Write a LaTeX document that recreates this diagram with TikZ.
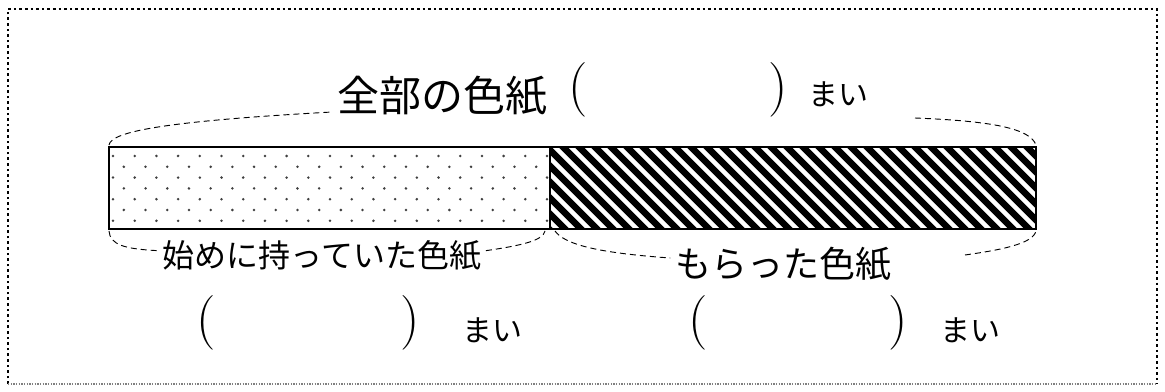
\documentclass[tikz,border=0pt]{standalone}
\usepackage{fontspec}
\newfontfamily\jpfont{Noto Sans CJK JP}
\usetikzlibrary{calc}

\begin{document}
\begin{tikzpicture}[x=0.75pt, y=-0.75pt,
    brace/.style={black, line width=0.7pt, dash pattern=on 4.5pt off 3pt},
    paren/.style={font=\fontsize{41}{41}\selectfont, inner sep=0pt},
    mai/.style={font=\jpfont\fontsize{22.5}{24}\selectfont},
    biglabel/.style={font=\jpfont\fontsize{31.5}{34}\selectfont},
    label/.style={font=\jpfont\fontsize{#1}{#1}\selectfont}]
    \useasboundingbox (0,0) rectangle (1165,392);

    \coordinate (BarNW) at (109,147);
    \coordinate (BarSE) at (1036,229);
    \coordinate (MidN) at (550,147);
    \coordinate (MidS) at (550,229);
    \coordinate (BarSW) at (109,229);
    \coordinate (BarNE) at (1036,147);

    % outer frame
    \draw[black, line width=2pt, dash pattern=on 2pt off 2.2pt] (8,384) -- (8,9) -- (1157,9) -- (1157,384);
    \draw[gray, line width=1pt, dash pattern=on 1pt off 1pt] (8,384) -- (1157,384);

    % dotted part
    \begin{scope}
        \clip (BarNW) rectangle (MidS);
        \foreach \r in {0,...,6}
            \foreach \k in {0,...,20}
                \fill[black!75] ({113+21.7*\k+mod(\r,2)*10.85}, {156+10.8*\r}) circle (1.4);
    \end{scope}

    % striped part
    \begin{scope}
        \clip (MidN) rectangle (BarSE);
        \foreach \s in {0,...,36}
            \draw[line width=4.8pt] ({460+16*\s},140) -- ++(100,100);
    \end{scope}

    \draw[line width=1.3pt] (BarNW) rectangle (BarSE);
    \draw[line width=1.3pt] (MidN) -- (MidS);

    % labels
    \node[biglabel] (whole) at (442,96) {全部の色紙};
    \node[paren] (wholeL) at (578,90) {(};
    \node[paren] (wholeR) at (778,90) {)};
    \node[mai] (wholeMai) at (838,94) {まい};
    \coordinate (wholeEnd) at (915,118);

    \node[label=24] (have) at (322,256) {始めに持っていた色紙};
    \node[label=27] (got) at (783,264) {もらった色紙};
    \coordinate (gotEnd) at (965,255);

    \node[paren] (haveL) at (206,323) {(};
    \node[paren] (haveR) at (410,323) {)};
    \node[mai] (haveMai) at (492,330) {まい};
    \node[paren] (gotL) at (698,323) {(};
    \node[paren] (gotR) at (898,323) {)};
    \node[mai] (gotMai) at (970,330) {まい};

    % braces
    \draw[brace] ($(BarNW)+(0,-2)$) .. controls (111,131) and (170,121) .. ([yshift=-12pt]whole.west);
    \draw[brace] (wholeEnd) .. controls (990,121) and (1030,128) .. ($(BarNE)+(0,-2)$);
    \draw[brace] ($(BarSW)+(0,2)$) .. controls (110,245) and (125,249) .. ([yshift=4pt]have.west);
    \draw[brace] ([yshift=4pt]have.east) .. controls (525,245) and (543,240) .. ($(MidS)+(-5,2)$);
    \draw[brace] ($(MidS)+(5,2)$) .. controls (565,245) and (600,253) .. ([yshift=4.5pt]got.west);
    \draw[brace] (gotEnd) .. controls (1000,250) and (1033,244) .. ($(BarSE)+(0,2)$);
\end{tikzpicture}
\end{document}
